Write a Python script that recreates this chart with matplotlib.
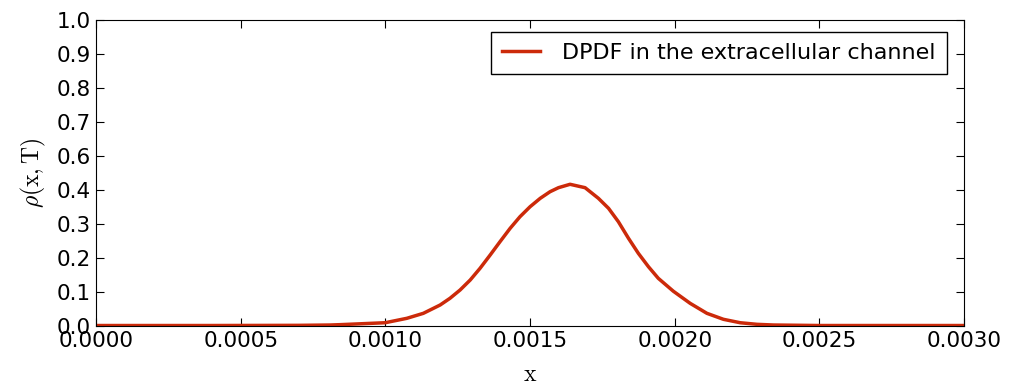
import numpy as np
import matplotlib
matplotlib.use("Agg")
import matplotlib.pyplot as plt

# curve (x, value in axis units, axis runs 0..0.9)
x_vals = [0.0, 0.0004, 0.0007, 0.000809, 0.000843, 0.000999, 0.001074, 0.001131,
          0.001189, 0.001223, 0.001258, 0.001293, 0.001327, 0.001362, 0.001396,
          0.001431, 0.001465, 0.001500, 0.001535, 0.001569, 0.001598, 0.001638,
          0.001690, 0.001736, 0.001771, 0.001805, 0.001840, 0.001874, 0.001909,
          0.001943, 0.001995, 0.002053, 0.002111, 0.002168, 0.002226, 0.002284,
          0.002341, 0.0025, 0.0030]
rho_vals = [0.0, 0.0, 0.0005, 0.0015, 0.0025, 0.0082, 0.0212, 0.0359,
            0.0604, 0.0801, 0.1046, 0.1340, 0.1685, 0.2077, 0.2469,
            0.2863, 0.3205, 0.3500, 0.3747, 0.3942, 0.4060, 0.4160,
            0.4060, 0.3747, 0.3453, 0.3058, 0.2569, 0.2127, 0.1732,
            0.1390, 0.1010, 0.0654, 0.0359, 0.0183, 0.0082, 0.0035,
            0.0015, 0.0, 0.0]

x_ticks = [0.0, 0.0005, 0.0010, 0.0015, 0.0020, 0.0025, 0.0030]
x_ticklabels = ["0.0000", "0.0005", "0.0010", "0.0015", "0.0020", "0.0025", "0.0030"]
y_ticks = [0.0, 0.1, 0.2, 0.3, 0.4, 0.5, 0.6, 0.7, 0.8, 0.9]
y_ticklabels = ["0.0", "0.1", "0.2", "0.3", "0.4", "0.6", "0.7", "0.8", "0.9", "1.0"]

plt.rcParams["mathtext.fontset"] = "cm"

fig = plt.figure(figsize=(10.13, 3.92), dpi=100)
ax = fig.add_axes([0.0948, 0.1696, 0.857, 0.7794])

ax.plot(x_vals, rho_vals, color="#cc2a0a", lw=2.5, label="DPDF in the extracellular channel")

ax.set_xlim(0, 0.003)
ax.set_ylim(0, 0.9)
ax.set_xticks(x_ticks)
ax.set_xticklabels(x_ticklabels)
ax.set_yticks(y_ticks)
ax.set_yticklabels(y_ticklabels)
ax.tick_params(direction="in", length=6, width=0.8, top=True, right=True,
               labelsize=15.5, pad=4)

ax.set_xlabel(r"$\mathrm{x}$", fontsize=17, labelpad=8)
ax.set_ylabel(r"$\rho(\mathrm{x},\mathrm{T})$", fontsize=17, labelpad=6)

leg = ax.legend(loc="upper right", bbox_to_anchor=(0.980, 0.962), borderaxespad=0,
                fontsize=16, fancybox=False, framealpha=1, edgecolor="black",
                handlelength=1.7, handletextpad=1.0, borderpad=0.5)
leg.get_frame().set_linewidth(1.0)

fig.savefig("out.png", dpi=100)
